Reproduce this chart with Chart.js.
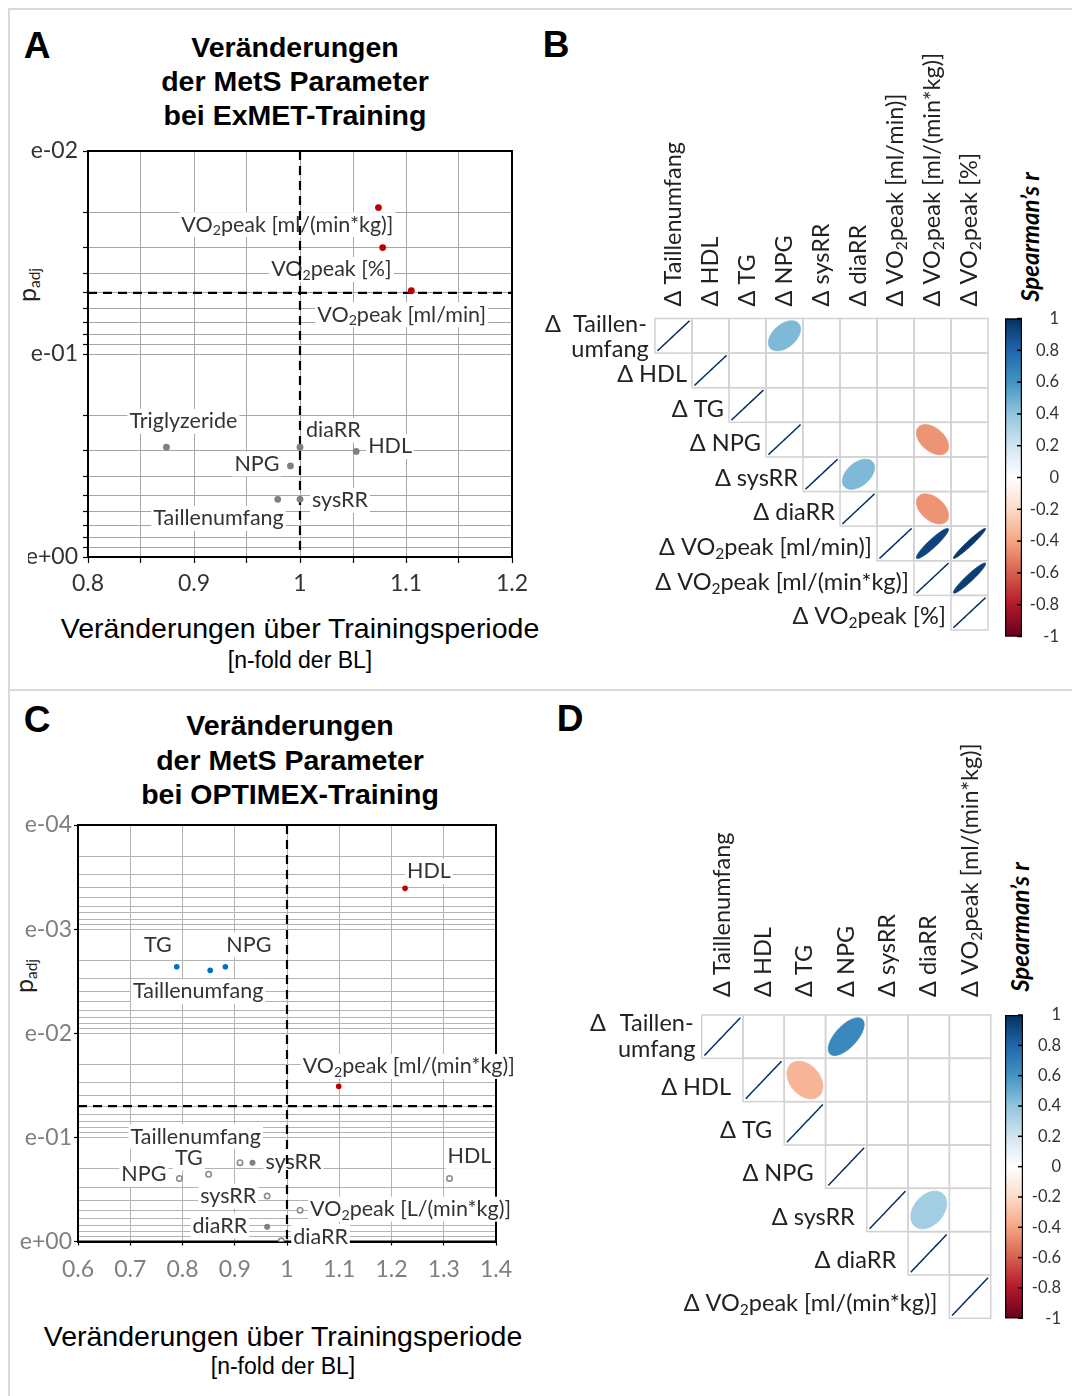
<!DOCTYPE html>
<html><head><meta charset="utf-8">
<script src="https://cdn.jsdelivr.net/npm/chart.js@4.4.1/dist/chart.umd.min.js"></script>
<style>
html,body{margin:0;padding:0;background:#fff;}
body{width:1072px;height:1396px;position:relative;overflow:hidden;}
.t{position:absolute;white-space:nowrap;transform:translate(-50%,-50%);line-height:1.15;color:#000;text-align:center;}
.arial{font-family:'Liberation Sans',Arial,sans-serif;}
.cal{font-family:Lato,'Open Sans',sans-serif;}
.rot{transform:translate(-50%,-50%) rotate(-90deg);}
canvas{position:absolute;}
.ln{position:absolute;background:#d9d9d9;}
</style></head>
<body>
<div class="ln" style="left:8px;top:8px;width:2px;height:1388px"></div>
<div class="ln" style="left:8px;top:8px;width:1064px;height:2px"></div>
<div class="ln" style="left:8px;top:689px;width:1064px;height:2px"></div>

<div class="t arial" style="left:37px;top:46px;font-size:37px;font-weight:bold">A</div>
<div class="t arial" style="left:556px;top:45px;font-size:37px;font-weight:bold">B</div>
<div class="t arial" style="left:37px;top:720px;font-size:37px;font-weight:bold">C</div>
<div class="t arial" style="left:570px;top:719px;font-size:37px;font-weight:bold">D</div>

<div class="t arial" style="left:295px;top:81px;font-size:28.5px;font-weight:bold;line-height:34px">Veränderungen<br>der MetS Parameter<br>bei ExMET-Training</div>
<div class="t arial" style="left:290px;top:760px;font-size:28.5px;font-weight:bold;line-height:34.5px">Veränderungen<br>der MetS Parameter<br>bei OPTIMEX-Training</div>

<div class="t arial" style="left:300px;top:628px;font-size:28.5px">Veränderungen über Trainingsperiode</div>
<div class="t arial" style="left:300px;top:660px;font-size:23px">[n-fold der BL]</div>
<div class="t arial" style="left:283px;top:1336px;font-size:28.5px">Veränderungen über Trainingsperiode</div>
<div class="t arial" style="left:283px;top:1366px;font-size:23px">[n-fold der BL]</div>

<div class="t cal rot" style="left:28px;top:285px;font-size:25px;color:#222">p<sub style="font-size:0.62em;vertical-align:-0.3em">adj</sub></div>
<div class="t cal rot" style="left:25px;top:976px;font-size:25px;color:#222">p<sub style="font-size:0.62em;vertical-align:-0.3em">adj</sub></div>

<div class="t cal rot" style="left:1030px;top:237px;font-size:24px;font-weight:bold;font-style:italic">Spearman’s r</div>
<div class="t cal rot" style="left:1020px;top:927px;font-size:24px;font-weight:bold;font-style:italic">Spearman’s r</div>

<canvas id="cA"></canvas>
<canvas id="cB"></canvas>
<canvas id="cC"></canvas>
<canvas id="cD"></canvas>

<script>
// ================= DATA =================
// Panel A – ExMET: fold change vs. adjusted p
const aSigNames = ["VO₂peak [ml/(min*kg)]", "VO₂peak [%]", "VO₂peak [ml/min]"];
const aSigFold  = [1.074, 1.078, 1.105];
const aSigP     = [0.0190, 0.0299, 0.0488];
const aNsNames  = ["Triglyzeride", "diaRR", "HDL", "NPG", "Taillenumfang", "sysRR"];
const aNsFold   = [0.874, 1.000, 1.053, 0.991, 0.979, 1.000];
const aNsP      = [0.288, 0.288, 0.302, 0.356, 0.520, 0.520];
const aXGrid       = [0.8, 0.85, 0.9, 0.95, 1.0, 1.05, 1.1, 1.15, 1.2];
const aXTickValues = [0.8, 0.9, 1.0, 1.1, 1.2];
const aXTickLabels = ["0.8", "0.9", "1", "1.1", "1.2"];
const aYTickValues = [0.01, 0.1, 1];
const aYTickLabels = ["e-02", "e-01", "e+00"];

// Panel C – OPTIMEX
const cUpNames   = ["HDL", "VO₂peak [ml/(min*kg)]"];
const cUpFold    = [1.226, 1.099];
const cUpP       = [0.000406, 0.0324];
const cDownNames = ["TG", "Taillenumfang", "NPG"];
const cDownFold  = [0.789, 0.853, 0.882];
const cDownP     = [0.00230, 0.00249, 0.00230];
const cOpenNames = ["Taillenumfang", "TG", "NPG", "sysRR", "HDL", "VO₂peak [L/(min*kg)]", "diaRR"];
const cOpenFold  = [0.910, 0.850, 0.794, 0.962, 1.311, 1.025, 0.989];
const cOpenP     = [0.175, 0.226, 0.248, 0.366, 0.248, 0.500, 0.985];
const cFillNames = ["sysRR", "diaRR"];
const cFillFold  = [0.934, 0.962];
const cFillP     = [0.175, 0.720];
const cXGrid       = [0.6, 0.7, 0.8, 0.9, 1.0, 1.1, 1.2, 1.3, 1.4];
const cXTickValues = [0.6, 0.7, 0.8, 0.9, 1.0, 1.1, 1.2, 1.3, 1.4];
const cXTickLabels = ["0.6", "0.7", "0.8", "0.9", "1", "1.1", "1.2", "1.3", "1.4"];
const cYTickValues = [0.0001, 0.001, 0.01, 0.1, 1];
const cYTickLabels = ["e-04", "e-03", "e-02", "e-01", "e+00"];

const pThreshold = 0.05;
const foldBaseline = 1;

// Panel B – Spearman correlations (ExMET)
const bVars = ["Taillenumfang", "HDL", "TG", "NPG", "sysRR", "diaRR", "VO₂peak [ml/min)]", "VO₂peak [ml/(min*kg)]", "VO₂peak [%]"];
const bRow0Lines = ["Taillen-", "umfang"];
const bRows = [0, 1, 2, 3, 4, 5, 6, 7, 8, 0, 3, 4, 5, 6, 6, 7];
const bCols = [0, 1, 2, 3, 4, 5, 6, 7, 8, 3, 7, 5, 7, 7, 8, 8];
const bRho  = [1, 1, 1, 1, 1, 1, 1, 1, 1, 0.45, -0.45, 0.45, -0.45, 0.93, 0.97, 0.95];

// Panel D – Spearman correlations (OPTIMEX)
const dVars = ["Taillenumfang", "HDL", "TG", "NPG", "sysRR", "diaRR", "VO₂peak [ml/(min*kg)]"];
const dRow0Lines = ["Taillen-", "umfang"];
const dRows = [0, 1, 2, 3, 4, 5, 6, 0, 1, 4];
const dCols = [0, 1, 2, 3, 4, 5, 6, 3, 2, 5];
const dRho  = [1, 1, 1, 1, 1, 1, 1, 0.65, -0.34, 0.35];

const cbTickValues = [1, 0.8, 0.6, 0.4, 0.2, 0, -0.2, -0.4, -0.6, -0.8, -1];
const cbTickLabels = ["1", "0.8", "0.6", "0.4", "0.2", "0", "-0.2", "-0.4", "-0.6", "-0.8", "-1"];

// ================= LAYOUT / STYLE =================
const FS = "Lato, 'Open Sans', sans-serif";
const RED = "#C00000", BLUE = "#0070C0", GREY = "#808080";
const RDBU = ["#67001F","#B2182B","#D6604D","#F4A582","#FDDBC7","#FFFFFF","#D1E5F0","#92C5DE","#4393C3","#2166AC","#053061"];

// label anchor: [align, dx, dy] relative to the point
const aSigLabelPos = [["right", 15, 17], ["right", 9, 22], ["left", -94, 24]];
const aNsLabelPos  = [["left", -37, -26], ["left", 6, -17], ["left", 12, -5], ["right", -11, -2], ["right", 6, 19], ["left", 12, 1]];
const cUpLabelPos   = [["left", 2, -17], ["left", -36, -20]];
const cDownLabelPos = [["right", -5, -22], ["center", -12, 21], ["left", 1, -22]];
const cOpenLabelPos = [["right", 21, -26], ["right", -6, -16], ["right", -13, -4], ["right", -11, 0], ["left", -2, -22], ["left", 10, -1], ["left", 12, -4]];
const cFillLabelPos = [["left", 13, -1], ["right", -20, -1]];

// ================= HELPERS =================
function segs(text){ const out=[]; text.split('₂').forEach((p,i)=>{ if(i>0) out.push({t:'2',sub:true}); if(p) out.push({t:p,sub:false}); }); return out; }
function fontStr(o, size){ return (o.style||'normal')+' '+(o.weight||'normal')+' '+size+'px '+(o.family||FS); }
function drawRich(ctx, text, x, y, o){
  const s = segs(text), fs = o.size, ss = fs*0.66;
  let total = 0;
  s.forEach(g=>{ ctx.font = fontStr(o, g.sub?ss:fs); g.w = ctx.measureText(g.t).width; total += g.w; });
  let x0 = o.align==='left' ? x : (o.align==='right' ? x-total : x-total/2);
  if (o.bg){ ctx.fillStyle = o.bg; const p=o.padX||0; ctx.fillRect(x0-p, y-fs*0.58, total+2*p, fs*1.16); }
  ctx.fillStyle = o.color||'#333'; ctx.textAlign='left'; ctx.textBaseline='middle';
  s.forEach(g=>{ ctx.font = fontStr(o, g.sub?ss:fs); ctx.fillText(g.t, x0, g.sub ? y+fs*0.28 : y); x0 += g.w; });
  return total;
}
function pts(xs, ys){ return xs.map((x,i)=>({x:x, y:ys[i]})); }
function logTicks(min, max){
  const out=[]; const e0=Math.round(Math.log10(min)), e1=Math.round(Math.log10(max));
  for(let e=e0;e<e1;e++){ for(let k=1;k<10;k++) out.push({value:Number((k*Math.pow(10,e)).toPrecision(6))}); }
  out.push({value:max}); return out;
}
function isDec(v){ const l=Math.log10(v); return Math.abs(l-Math.round(l))<1e-9; }
function lab(vals, labs, v){ const k = vals.findIndex(t=>Math.abs(t-v)<1e-9); return k<0 ? '' : labs[k]; }
function hex2rgb(h){ return [parseInt(h.substr(1,2),16),parseInt(h.substr(3,2),16),parseInt(h.substr(5,2),16)]; }
function rhoColor(r){
  const p=(Math.max(-1,Math.min(1,r))+1)/2*10; const i=Math.min(9,Math.floor(p)), t=p-i;
  const a=hex2rgb(RDBU[i]), b=hex2rgb(RDBU[i+1]);
  return 'rgb('+a.map((v,k)=>Math.round(v+(b[k]-v)*t)).join(',')+')';
}
function sizeCanvas(cv, g){ cv.width=g.w; cv.height=g.h; cv.style.left=g.left+'px'; cv.style.top=g.top+'px'; cv.style.width=g.w+'px'; cv.style.height=g.h+'px'; }

// ================= SCATTER (A, C) =================
function makeScatter(c){
  const g=c.geo, cv=document.getElementById(c.id); sizeCanvas(cv,g);
  const pad={left:g.areaL-g.left-g.yW, top:g.areaT-g.top, right:g.left+g.w-g.areaR, bottom:g.top+g.h-g.areaB-g.xH};
  const dash={showLine:true, borderColor:'#000', borderWidth:2.2, borderDash:[9,6], pointRadius:0, fill:false};
  const refLines=[
    Object.assign({data:[{x:foldBaseline,y:c.yMin},{x:foldBaseline,y:c.yMax}]}, dash),
    Object.assign({data:[{x:c.xMin,y:pThreshold},{x:c.xMax,y:pThreshold}]}, dash)
  ];
  const labelPlugin={ id:'lbl'+c.id, beforeDatasetsDraw(chart){
    const ctx=chart.ctx, a=chart.chartArea; ctx.save();
    ctx.strokeStyle='#000'; ctx.lineWidth=2; ctx.strokeRect(a.left,a.top,a.right-a.left,a.bottom-a.top);
    chart.data.datasets.forEach((ds,i)=>{
      if(!ds.labelTexts) return;
      chart.getDatasetMeta(i).data.forEach((el,j)=>{
        const p=ds.labelPos[j];
        drawRich(ctx, ds.labelTexts[j], el.x+p[1], el.y+p[2], {align:p[0], size:c.labelSize, color:'#333', bg:'#fff', padX:2});
      });
    });
    ctx.restore();
  }};
  new Chart(cv,{type:'scatter', data:{datasets:c.datasets.concat(refLines)}, options:{
    responsive:false, animation:false, events:[], layout:{padding:pad},
    plugins:{legend:{display:false}, tooltip:{enabled:false}},
    scales:{
      x:{type:'linear', min:c.xMin, max:c.xMax,
        afterBuildTicks:s=>{ s.ticks=c.xGrid.map(v=>({value:v})); },
        ticks:{autoSkip:false, maxRotation:0, padding:c.xTickPad, color:c.tickColor, font:{family:FS,size:c.tickSize}, callback:v=>lab(c.xTickValues,c.xTickLabels,v)},
        grid:{color:c.gridColor, lineWidth:1, tickLength:c.xTickLen, tickColor:'#000', tickWidth:1.2},
        border:{color:'#000', width:2},
        afterFit:s=>{ s.height=g.xH; s.paddingLeft=0; s.paddingRight=0; }},
      y:{type:'logarithmic', reverse:true, min:c.yMin, max:c.yMax,
        afterBuildTicks:s=>{ s.ticks=logTicks(c.yMin,c.yMax); },
        ticks:{autoSkip:false, padding:c.yTickPad, color:c.tickColor, font:{family:FS,size:c.tickSize}, callback:v=>lab(c.yTickValues,c.yTickLabels,v)},
        grid:{color:c.gridColor, lineWidth:1, tickLength:c.yTickLen, tickWidth:1.2,
          tickColor:ctx=>(c.minorTicks || (ctx.tick && isDec(ctx.tick.value))) ? '#000' : 'rgba(0,0,0,0)'},
        border:{color:'#000', width:2},
        afterFit:s=>{ s.width=g.yW; s.paddingTop=0; s.paddingBottom=0; }}
    }
  }, plugins:[labelPlugin]});
}

makeScatter({
  id:'cA', geo:{left:0, top:130, w:545, h:480, areaL:88, areaT:151, areaR:512, areaB:557, yW:60, xH:44},
  xMin:0.8, xMax:1.2, yMin:0.01, yMax:1, xGrid:aXGrid, xTickValues:aXTickValues, xTickLabels:aXTickLabels,
  yTickValues:aYTickValues, yTickLabels:aYTickLabels, tickColor:'#333', gridColor:'#a6a6a6', tickSize:23,
  xTickLen:6, xTickPad:7, yTickLen:5, yTickPad:5, minorTicks:true, labelSize:21.5,
  datasets:[
    {data:pts(aSigFold,aSigP), labelTexts:aSigNames, labelPos:aSigLabelPos, pointRadius:3.4, backgroundColor:RED, borderWidth:0},
    {data:pts(aNsFold,aNsP), labelTexts:aNsNames, labelPos:aNsLabelPos, pointRadius:3.4, backgroundColor:GREY, borderWidth:0}
  ]
});

makeScatter({
  id:'cC', geo:{left:0, top:800, w:545, h:490, areaL:78, areaT:825, areaR:496, areaB:1241.5, yW:60, xH:42},
  xMin:0.6, xMax:1.4, yMin:0.0001, yMax:1, xGrid:cXGrid, xTickValues:cXTickValues, xTickLabels:cXTickLabels,
  yTickValues:cYTickValues, yTickLabels:cYTickLabels, tickColor:'#7f7f7f', gridColor:'#b3b3b3', tickSize:23,
  xTickLen:4, xTickPad:10, yTickLen:4, yTickPad:2, minorTicks:false, labelSize:21.5,
  datasets:[
    {data:pts(cUpFold,cUpP), labelTexts:cUpNames, labelPos:cUpLabelPos, pointRadius:2.8, backgroundColor:RED, borderWidth:0},
    {data:pts(cDownFold,cDownP), labelTexts:cDownNames, labelPos:cDownLabelPos, pointRadius:2.8, backgroundColor:BLUE, borderWidth:0},
    {data:pts(cFillFold,cFillP), labelTexts:cFillNames, labelPos:cFillLabelPos, pointRadius:3, backgroundColor:GREY, borderWidth:0},
    {data:pts(cOpenFold,cOpenP), labelTexts:cOpenNames, labelPos:cOpenLabelPos, pointRadius:2.7, backgroundColor:'#fff', borderColor:'#8c8c8c', borderWidth:1.6}
  ]
});

// ================= CORRELATION MATRICES (B, D) =================
function makeCorr(c){
  const g=c.geo, n=c.vars.length, cv=document.getElementById(c.id); sizeCanvas(cv,g);
  const cellW=(g.gridR-g.gridL)/n, cellH=(g.gridB-g.gridT)/n;
  const areaT=Math.min(g.gridT,g.barT), areaB=Math.max(g.gridB,g.barB);
  const xMax=(g.barR-g.gridL)/cellW, yMin=(areaT-g.gridT)/cellH, yMax=(areaB-g.gridT)/cellH;
  const pad={left:g.gridL-g.left, top:areaT-g.top, right:g.left+g.w-g.barR-g.cbW, bottom:g.top+g.h-areaB};
  const plugin={ id:'corr'+c.id,
    beforeDatasetsDraw(chart){
      const ctx=chart.ctx, X=chart.scales.x, Y=chart.scales.y, CB=chart.scales.cb; ctx.save();
      // cells
      ctx.strokeStyle='#d2d2d2'; ctx.lineWidth=1.5;
      for(let i=0;i<n;i++) for(let j=i;j<n;j++){
        const x0=X.getPixelForValue(j), x1=X.getPixelForValue(j+1), y0=Y.getPixelForValue(i), y1=Y.getPixelForValue(i+1);
        ctx.strokeRect(x0,y0,x1-x0,y1-y0);
      }
      // column labels
      for(let j=0;j<n;j++){
        ctx.save(); ctx.translate(X.getPixelForValue(j+0.5), Y.getPixelForValue(0)-c.colGap); ctx.rotate(-Math.PI/2);
        drawRich(ctx, 'Δ '+c.vars[j], 0, 0, {align:'left', size:c.lblSize, color:'#222'}); ctx.restore();
      }
      // row labels
      for(let i=1;i<n;i++){
        drawRich(ctx, 'Δ '+c.vars[i], X.getPixelForValue(i)-c.rowGap, Y.getPixelForValue(i+0.5)+c.rowDy, {align:'right', size:c.lblSize, color:'#222'});
      }
      const top0=Y.getPixelForValue(0), left0=X.getPixelForValue(0);
      drawRich(ctx, 'Δ', left0+c.r0.deltaDx, top0+c.r0.dy1, {align:'left', size:c.lblSize, color:'#222'});
      drawRich(ctx, c.row0[0], left0+c.r0.textDx, top0+c.r0.dy1, {align:'center', size:c.lblSize, color:'#222'});
      drawRich(ctx, c.row0[1], left0+c.r0.textDx, top0+c.r0.dy2, {align:'center', size:c.lblSize, color:'#222'});
      // colour bar (right end of the chart area, along the 'cb' scale)
      const br=chart.chartArea.right, bl=br-(g.barR-g.barL);
      const yT=CB.getPixelForValue(1), yB=CB.getPixelForValue(-1);
      const grd=ctx.createLinearGradient(0,yB,0,yT);
      RDBU.forEach((col,k)=>grd.addColorStop(k/10,col));
      ctx.fillStyle=grd; ctx.fillRect(bl,yT,br-bl,yB-yT);
      ctx.strokeStyle='#000'; ctx.lineWidth=1.2; ctx.strokeRect(bl+0.6,yT+0.6,br-bl-1.2,yB-yT-1.2);
      ctx.lineWidth=1.5;
      cbTickValues.forEach(v=>{ const yy=CB.getPixelForValue(v); ctx.beginPath(); ctx.moveTo(br-5,yy); ctx.lineTo(br,yy); ctx.stroke(); });
      ctx.restore();
    },
    afterDatasetsDraw(chart){
      const ctx=chart.ctx, X=chart.scales.x, Y=chart.scales.y; ctx.save();
      const w=(X.getPixelForValue(1)-X.getPixelForValue(0))*0.87, h=(Y.getPixelForValue(1)-Y.getPixelForValue(0))*0.87;
      chart.getDatasetMeta(0).data.forEach((el,k)=>{
        const rho=chart.data.datasets[0].data[k].rho, a=Math.acos(Math.max(-1,Math.min(1,rho)))/2;
        ctx.beginPath();
        for(let s=0;s<=120;s++){ const t=s/120*2*Math.PI; const px=el.x+Math.cos(t+a)/2*w, py=el.y-Math.cos(t-a)/2*h; s?ctx.lineTo(px,py):ctx.moveTo(px,py); }
        ctx.closePath();
        const col=rhoColor(rho);
        if(Math.abs(rho)>0.999){ ctx.strokeStyle=col; ctx.lineWidth=1.5; ctx.stroke(); }
        else { ctx.fillStyle=col; ctx.fill(); ctx.strokeStyle=col; ctx.lineWidth=0.8; ctx.stroke(); }
      });
      ctx.restore();
    }
  };
  new Chart(cv,{type:'scatter', data:{datasets:[{xAxisID:'x', yAxisID:'y', pointRadius:0,
      data:c.rows.map((r,i)=>({x:c.cols[i]+0.5, y:r+0.5, rho:c.rho[i]}))}]},
    options:{responsive:false, animation:false, events:[], layout:{padding:pad},
      plugins:{legend:{display:false}, tooltip:{enabled:false}},
      scales:{
        x:{type:'linear', display:false, min:0, max:xMax},
        y:{type:'linear', display:false, reverse:true, min:yMin, max:yMax},
        cb:{type:'linear', axis:'y', position:'right', min:-1, max:1,
          afterBuildTicks:s=>{ s.ticks=cbTickValues.map(v=>({value:v})); },
          ticks:{autoSkip:false, crossAlign:'far', padding:4, color:'#333', font:{family:FS,size:16.5}, callback:v=>lab(cbTickValues,cbTickLabels,v)},
          grid:{display:false, drawTicks:false, tickLength:0}, border:{display:false},
          afterFit:s=>{ s.width=g.cbW; s.paddingTop=0; s.paddingBottom=0; }}
      }}, plugins:[plugin]});
}

makeCorr({id:'cB', vars:bVars, row0:bRow0Lines, rows:bRows, cols:bCols, rho:bRho,
  geo:{left:530, top:10, w:542, h:660, gridL:655, gridR:988, gridT:318.5, gridB:630, barL:1005, barR:1022, barT:318.5, barB:636.5, cbW:37},
  lblSize:23.5, colGap:12, rowGap:5, rowDy:4, r0:{deltaDx:-110, textDx:-45, dy1:6, dy2:31}});

makeCorr({id:'cD', vars:dVars, row0:dRow0Lines, rows:dRows, cols:dCols, rho:dRho,
  geo:{left:560, top:700, w:512, h:680, gridL:701.7, gridR:990.7, gridT:1015, gridB:1318.3, barL:1005, barR:1023, barT:1015, barB:1318.3, cbW:38},
  lblSize:23.5, colGap:18, rowGap:12, rowDy:7, r0:{deltaDx:-111.7, textDx:-45, dy1:8, dy2:34}});
</script>
</body></html>
